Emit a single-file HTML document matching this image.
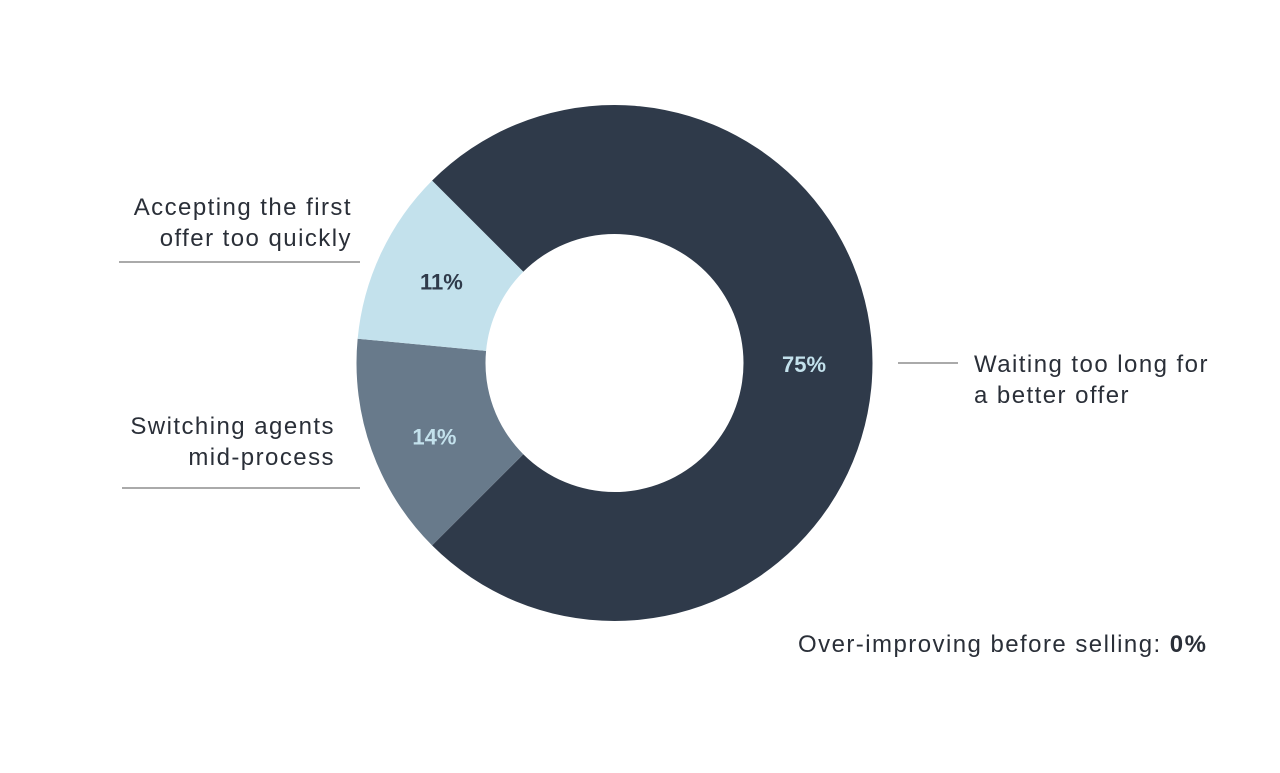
<!DOCTYPE html>
<html><head><meta charset="utf-8"><style>
body{margin:0;background:#fff;width:1280px;height:768px;overflow:hidden;font-family:"Liberation Sans",sans-serif;}
svg text{font-family:"Liberation Sans",sans-serif;}
.lbl{letter-spacing:1.45px;}
</style></head><body>
<svg id="chart" width="1280" height="768" viewBox="0 0 1280 768">
<g id="slices"></g>
<g>
<text class="lbl" x="352" y="215" text-anchor="end" font-size="24" fill="#2a2f38">Accepting the first</text>
<text class="lbl" x="352" y="246" text-anchor="end" font-size="24" fill="#2a2f38">offer too quickly</text>
<line x1="119" y1="262" x2="360" y2="262" stroke="#555" stroke-width="1"/>
</g>
<g>
<text class="lbl" x="335" y="434" text-anchor="end" font-size="24" fill="#2a2f38">Switching agents</text>
<text class="lbl" x="335" y="465" text-anchor="end" font-size="24" fill="#2a2f38">mid-process</text>
<line x1="122" y1="488" x2="360" y2="488" stroke="#555" stroke-width="1"/>
</g>
<g>
<line x1="898" y1="363" x2="958" y2="363" stroke="#555" stroke-width="1"/>
<text class="lbl" x="974" y="372" font-size="24" fill="#2a2f38">Waiting too long for</text>
<text class="lbl" x="974" y="403" font-size="24" fill="#2a2f38">a better offer</text>
</g>
<text class="lbl" x="798" y="652" font-size="24" fill="#2a2f38">Over-improving before selling: <tspan font-weight="bold">0%</tspan></text>
</svg>
<script>
const categories=["Waiting too long for a better offer","Switching agents mid-process","Accepting the first offer too quickly"];
const values=[75,14,11];
const valueLabels=["75%","14%","11%"];
const colors=["#2f3a4a","#687a8b","#c3e1ec"];
const labelColors=["#c3e1ec","#c3e1ec","#2f3a4a"];
const cx=614.5,cy=363,R=258,r=129,start=-45;
const g=document.getElementById('slices');
const total=values.reduce((a,b)=>a+b,0);
const ns="http://www.w3.org/2000/svg";
function pt(a,rad){const t=(a-90)*Math.PI/180;return [cx+rad*Math.cos(t),cy+rad*Math.sin(t)];}
let a0=start;
values.forEach((v,i)=>{
 const a1=a0+v/total*360;const large=(a1-a0)>180?1:0;
 const p1=pt(a0,R),p2=pt(a1,R),p3=pt(a1,r),p4=pt(a0,r);
 const p=document.createElementNS(ns,'path');
 p.setAttribute('d',`M${p1}A${R},${R} 0 ${large} 1 ${p2}L${p3}A${r},${r} 0 ${large} 0 ${p4}Z`);
 p.setAttribute('fill',colors[i]);
 
 
 g.appendChild(p);
 const m=pt((a0+a1)/2,(R+r)/2);
 const t=document.createElementNS(ns,'text');
 t.setAttribute('x',i===0?m[0]-4:m[0]+2);t.setAttribute('y',m[1]+(i===1?16:9));
 t.setAttribute('text-anchor','middle');t.setAttribute('font-size','22');t.setAttribute('font-weight','bold');
 t.setAttribute('fill',labelColors[i]);t.textContent=valueLabels[i];
 
 
 g.appendChild(t);
 a0=a1;
});
</script>
</body></html>
